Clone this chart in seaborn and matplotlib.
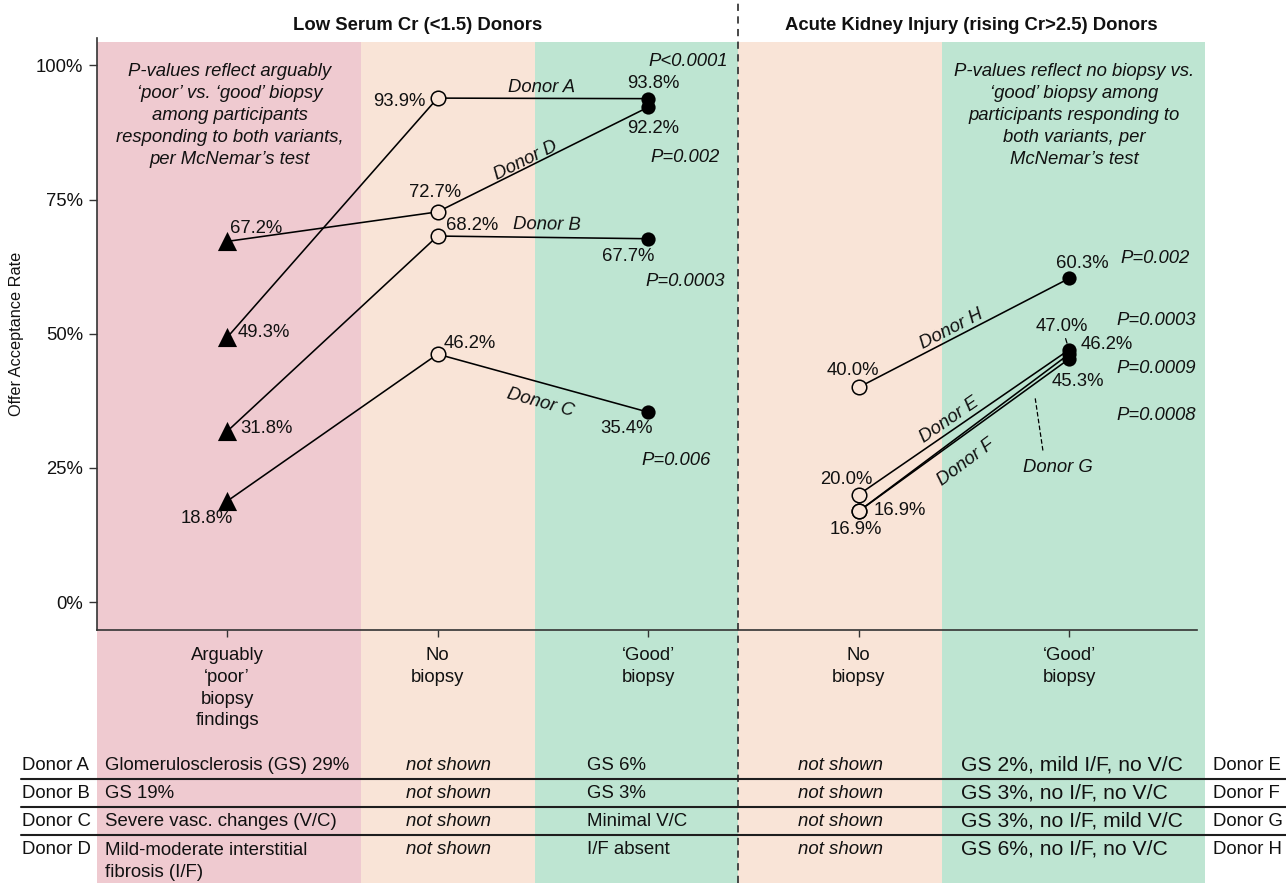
import math

import matplotlib
matplotlib.use("Agg")
import matplotlib.pyplot as plt
import matplotlib.transforms as mtransforms
from matplotlib.lines import Line2D
from matplotlib.patches import Rectangle
import pandas as pd
import seaborn as sns

# ---------------------------------------------------------------- data
stage_labels = ["Arguably\n\u2018poor\u2019\nbiopsy\nfindings", "No\nbiopsy",
                "\u2018Good\u2019\nbiopsy", "No\nbiopsy", "\u2018Good\u2019\nbiopsy"]
y_ticks = [0, 25, 50, 75, 100]
y_tick_labels = ["0%", "25%", "50%", "75%", "100%"]

low_cr_donors = ["Donor A", "Donor B", "Donor C", "Donor D"]
low_cr_poor = [49.3, 31.8, 18.8, 67.2]
low_cr_none = [93.9, 68.2, 46.2, 72.7]
low_cr_good = [93.8, 67.7, 35.4, 92.2]
low_cr_p = ["P<0.0001", "P=0.0003", "P=0.006", "P=0.002"]

aki_donors = ["Donor E", "Donor F", "Donor G", "Donor H"]
aki_none = [20.0, 16.9, 16.9, 40.0]
aki_good = [47.0, 46.2, 45.3, 60.3]
aki_p = ["P=0.0003", "P=0.0009", "P=0.0008", "P=0.002"]

low_cr_poor_findings = ["Glomerulosclerosis (GS) 29%", "GS 19%",
                        "Severe vasc. changes (V/C)",
                        "Mild-moderate interstitial\nfibrosis (I/F)"]
low_cr_good_findings = ["GS 6%", "GS 3%", "Minimal V/C", "I/F absent"]
aki_good_findings = ["GS 2%, mild I/F, no V/C", "GS 3%, no I/F, no V/C",
                     "GS 3%, no I/F, mild V/C", "GS 6%, no I/F, no V/C"]
not_shown = "not shown"

panel_titles = ["Low Serum Cr (<1.5) Donors",
                "Acute Kidney Injury (rising Cr>2.5) Donors"]
note_low = ("P-values reflect arguably\n\u2018poor\u2019 vs. \u2018good\u2019 biopsy\n"
            "among participants\nresponding to both variants,\nper McNemar\u2019s test")
note_aki = ("P-values reflect no biopsy vs.\n\u2018good\u2019 biopsy among\n"
            "participants responding to\nboth variants, per\nMcNemar\u2019s test")

# long table: one row per donor and biopsy variant
records = []
for i, d in enumerate(low_cr_donors):
    for pos, stage, val in ((0, "poor", low_cr_poor[i]), (1, "none", low_cr_none[i]),
                            (2, "good", low_cr_good[i])):
        records.append(dict(donor=d, position=pos, stage=stage, rate=val))
for i, d in enumerate(aki_donors):
    for pos, stage, val in ((3, "none", aki_none[i]), (4, "good", aki_good[i])):
        records.append(dict(donor=d, position=pos, stage=stage, rate=val))
df = pd.DataFrame(records)

# ---------------------------------------------------------------- style
PINK = "#EFCAD0"
PEACH = "#F9E4D7"
GREEN = "#BEE5D2"
INK = "#111111"
AXIS = "#333333"
FS = 13.3
LS = 1.38

sns.set_style("ticks")
plt.rcParams["font.family"] = ["Liberation Sans", "DejaVu Sans"]
plt.rcParams["text.color"] = INK

W, H = 1286, 883
fig = plt.figure(figsize=(W / 100, H / 100), dpi=100)
fig.patch.set_facecolor("white")
ax = fig.add_axes([97 / W, 1 - 630 / H, 1100 / W, 592 / H])
ax.set_facecolor("none")
XLIM = (-0.618, 4.608)
YLIM = (-5.2, 105.1)
ax.set_xlim(*XLIM)
ax.set_ylim(*YLIM)

# column shading runs from the title row down through the table
band_edges = [XLIM[0], 0.637, 1.463, 2.428, 3.397, 4.646]
band_colors = [PINK, PEACH, GREEN, PEACH, GREEN]
xdata_yfig = mtransforms.blended_transform_factory(ax.transData, fig.transFigure)
for x0, x1, c in zip(band_edges[:-1], band_edges[1:], band_colors):
    ax.add_patch(Rectangle((x0, 0), x1 - x0, 1 - 42 / H, transform=xdata_yfig,
                           facecolor=c, edgecolor="none", zorder=0, clip_on=False))

# dashed divider between the two donor groups
ax.add_line(Line2D([band_edges[3]] * 2, [0, 1], transform=xdata_yfig, color="#3a3a3a",
                   lw=1.3, ls=(0, (4, 3)), zorder=1, clip_on=False))

# ---------------------------------------------------------------- marks
sns.lineplot(data=df, x="position", y="rate", units="donor", estimator=None,
             sort=False, color="black", linewidth=1.15, legend=False, ax=ax, zorder=3)
sns.scatterplot(data=df[df.stage == "poor"], x="position", y="rate", marker="^",
                s=190, color="black", linewidth=0, legend=False, ax=ax, zorder=4)
sns.scatterplot(data=df[df.stage == "none"], x="position", y="rate", marker="o",
                s=110, color=PEACH, edgecolor="black", linewidth=1.1,
                legend=False, ax=ax, zorder=4)
sns.scatterplot(data=df[df.stage == "good"], x="position", y="rate", marker="o",
                s=105, color="black", linewidth=0, legend=False, ax=ax, zorder=5)
ax.set_xlim(*XLIM)
ax.set_ylim(*YLIM)

# ---------------------------------------------------------------- axes
for side in ("top", "right"):
    ax.spines[side].set_visible(False)
for side in ("left", "bottom"):
    ax.spines[side].set_color(AXIS)
    ax.spines[side].set_linewidth(1.2)
ax.set_yticks(y_ticks)
ax.set_yticklabels(y_tick_labels)
ax.set_xticks(range(len(stage_labels)))
ax.set_xticklabels(stage_labels, linespacing=LS)
ax.tick_params(axis="y", length=6, width=1, color=AXIS, pad=4, labelsize=FS, labelcolor=INK)
ax.tick_params(axis="x", length=5, width=1, color=AXIS, pad=7, labelsize=FS, labelcolor=INK)
ax.set_xlabel("")
ax.set_ylabel("Offer Acceptance Rate", fontsize=11.7, color=INK)
ax.yaxis.set_label_coords(-0.066, 0.5)

# ---------------------------------------------------------------- value labels
# pixel offsets from each point: (dx, dy, horizontal alignment)
label_offsets = {
    ("Donor A", "poor"): (11, 5, "left"), ("Donor A", "none"): (-12, -3, "right"),
    ("Donor A", "good"): (5, 15, "center"),
    ("Donor B", "poor"): (13, 3, "left"), ("Donor B", "none"): (8, 11, "left"),
    ("Donor B", "good"): (-20, -18, "center"),
    ("Donor C", "poor"): (-20, -17, "center"), ("Donor C", "none"): (6, 11, "left"),
    ("Donor C", "good"): (-22, -16, "center"),
    ("Donor D", "poor"): (3, 13, "left"), ("Donor D", "none"): (-3, 19, "center"),
    ("Donor D", "good"): (5, -21, "center"),
    ("Donor E", "none"): (-12, 15, "center"), ("Donor E", "good"): (-7, 23, "center"),
    ("Donor F", "none"): (15, 1, "left"), ("Donor F", "good"): (38, 10, "center"),
    ("Donor G", "none"): (-3, -18, "center"), ("Donor G", "good"): (9, -23, "center"),
    ("Donor H", "none"): (-6, 17, "center"), ("Donor H", "good"): (13, 15, "center"),
}
for row in df.itertuples():
    dx, dy, ha = label_offsets[(row.donor, row.stage)]
    kw = {}
    if (row.donor, row.stage) == ("Donor E", "good"):
        kw["arrowprops"] = dict(arrowstyle="-", lw=0.9, color="black",
                                shrinkA=0, shrinkB=5)
    ax.annotate(f"{row.rate:.1f}%", xy=(row.position, row.rate), xytext=(dx, dy),
                textcoords="offset pixels", ha=ha, va="center", fontsize=FS,
                zorder=6, **kw)


def segment_angle(x0, y0, x1, y1):
    p0 = ax.transData.transform((x0, y0))
    p1 = ax.transData.transform((x1, y1))
    return math.degrees(math.atan2(p1[1] - p0[1], p1[0] - p0[0]))


# donor names placed along their lines
donor_label_pos = {
    "Donor A": (1.492, 95.9, (1, 2)), "Donor B": (1.52, 70.2, (1, 2)),
    "Donor C": (1.487, 37.1, (1, 2)), "Donor D": (1.42, 82.3, (1, 2)),
    "Donor E": (3.43, 33.9, (3, 4)), "Donor F": (3.511, 26.1, (3, 4)),
    "Donor H": (3.44, 50.8, (3, 4)),
}
for name, (lx, ly, (p0, p1)) in donor_label_pos.items():
    seg = df[df.donor == name].set_index("position")["rate"]
    ang = segment_angle(p0, seg[p0], p1, seg[p1])
    ax.text(lx, ly, name, rotation=ang, rotation_mode="anchor", ha="center",
            va="center", style="italic", fontsize=FS, zorder=6)

# Donor G sits below the bundle, tied to its line with a dashed leader
g = df[df.donor == "Donor G"].set_index("position")["rate"]
g_x = 3.83
g_y = g[3] + (g[4] - g[3]) * (g_x - 3)
ax.annotate("Donor G", xy=(g_x, g_y), xytext=(3.948, 25.1), ha="center", va="center",
            style="italic", fontsize=FS, zorder=6,
            arrowprops=dict(arrowstyle="-", linestyle=(0, (3, 2.5)), lw=0.9,
                            color="black", relpos=(0.3, 1.0), shrinkA=4, shrinkB=9))

# McNemar p-values
p_positions_low = [(2.19, 100.7), (2.176, 59.8), (2.133, 26.4), (2.176, 82.9)]
p_positions_aki = [(4.413, 52.5), (4.413, 43.6), (4.413, 34.8), (4.409, 64.1)]
for txt, (px, py) in zip(low_cr_p + aki_p, p_positions_low + p_positions_aki):
    ax.text(px, py, txt, ha="center", va="center", style="italic", fontsize=FS, zorder=6)

ax.text(0.014, 90.7, note_low, ha="center", va="center", multialignment="center",
        style="italic", fontsize=FS, linespacing=LS, zorder=6)
ax.text(4.024, 90.7, note_aki, ha="center", va="center", multialignment="center",
        style="italic", fontsize=FS, linespacing=LS, zorder=6)

# panel headings
ax.text((XLIM[0] + band_edges[3]) / 2, 1 - 25 / H, panel_titles[0], transform=xdata_yfig,
        ha="center", va="center", fontweight="bold", fontsize=FS)
ax.text((band_edges[3] + band_edges[5]) / 2, 1 - 25 / H, panel_titles[1],
        transform=xdata_yfig, ha="center", va="center", fontweight="bold", fontsize=FS)

# ---------------------------------------------------------------- findings table
row_y = [765, 793, 821, 849]
rule_y = [779, 807, 835]
TS = 13.4


def fx(px):
    return px / W


def fy(py):
    return 1 - py / H


for y in rule_y:
    fig.add_artist(Line2D([fx(21), 1], [fy(y)] * 2, transform=fig.transFigure,
                          color="#1e1e1e", lw=1.5, zorder=2))

for i, y in enumerate(row_y):
    fig.text(fx(22), fy(y), low_cr_donors[i], ha="left", va="center", fontsize=TS)
    if "\n" in low_cr_poor_findings[i]:
        fig.text(fx(105), fy(y - 7), low_cr_poor_findings[i], ha="left", va="top",
                 fontsize=TS, linespacing=LS)
    else:
        fig.text(fx(105), fy(y), low_cr_poor_findings[i], ha="left", va="center",
                 fontsize=TS)
    fig.text(fx(449), fy(y), not_shown, ha="center", va="center", style="italic",
             fontsize=TS)
    fig.text(fx(587), fy(y), low_cr_good_findings[i], ha="left", va="center", fontsize=TS)
    fig.text(fx(841), fy(y), not_shown, ha="center", va="center", style="italic",
             fontsize=TS)
    fig.text(fx(961), fy(y), aki_good_findings[i], ha="left", va="center", fontsize=15.2)
    fig.text(fx(1213), fy(y), aki_donors[i], ha="left", va="center", fontsize=TS)

fig.savefig("out.png", dpi=100)
